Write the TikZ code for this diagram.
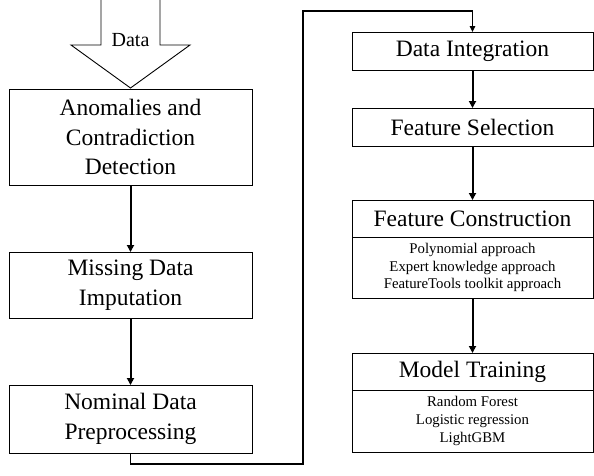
\documentclass[tikz,border=0pt]{standalone}
\usepackage{fontspec}
\setmainfont{Liberation Serif}
\usepackage{tikz}
\usetikzlibrary{calc}
\usetikzlibrary{positioning, arrows.meta}

\begin{document}
\begin{tikzpicture}[x=1pt,y=1pt,-,auto,
                    box/.style={rectangle,draw,line width=0.9pt,outer sep=0pt,inner sep=0pt,
                                align=center,font=\fontsize{23.5}{29.5}\selectfont},
                    left box/.style={box,minimum width=243pt},
                    right box/.style={box,minimum width=241pt},
                    list box/.style={right box,font=\fontsize{14.8}{17.6}\selectfont},
                    flow/.style={line width=2pt,-{Triangle[length=7pt,width=7pt]}},
                    feed/.style={line width=1.2pt,-{Triangle[length=6pt,width=5.5pt]}}]

  \useasboundingbox (0,0) rectangle (594,-475);

  % incoming data arrow
  \draw[line width=0.9pt,line join=miter]
    (101,0) -- (101,-45) -- (71,-45) -- (130.5,-88) -- (190,-45) -- (160,-45) -- (160,0);
  \node[font=\fontsize{20}{22}\selectfont] (data) at (130.5,-40) {Data};

  % preprocessing column
  \node[left box,minimum height=96pt] (anom) at (130.5,-137)
    {Anomalies and\\Contradiction\\Detection};
  \node[left box,minimum height=66pt] (miss) [below=67pt of anom]
    {Missing Data\\Imputation};
  \node[left box,minimum height=68pt] (nom) [below=67pt of miss]
    {Nominal Data\\Preprocessing};

  % feature and model column
  \node[right box,minimum height=38pt] (integ) at (472.5,-51) {Data Integration};
  \node[right box,minimum height=38pt] (sel) [below=38pt of integ] {Feature Selection};
  \node[right box,minimum height=37pt] (fc) [below=54pt of sel] {Feature Construction};
  \node[list box,minimum height=61pt] (fclist) [below=0pt of fc]
    {Polynomial approach\\Expert knowledge approach\\FeatureTools toolkit approach};
  \node[right box,minimum height=37pt] (mt) [below=55pt of fclist] {Model Training};
  \node[list box,minimum height=62pt] (mtlist) [below=0pt of mt]
    {Random Forest\\Logistic regression\\LightGBM};

  \path[flow]
    (anom) edge (miss)
    (miss) edge (nom)
    (integ) edge (sel)
    (sel) edge (fc)
    (fclist) edge (mt);

  \coordinate (low) at (303,-464);
  \coordinate (high) at (303,-11);
  \draw[feed] (nom.south) |- (low) -- (high) -| (integ.north);
\end{tikzpicture}
\end{document}
